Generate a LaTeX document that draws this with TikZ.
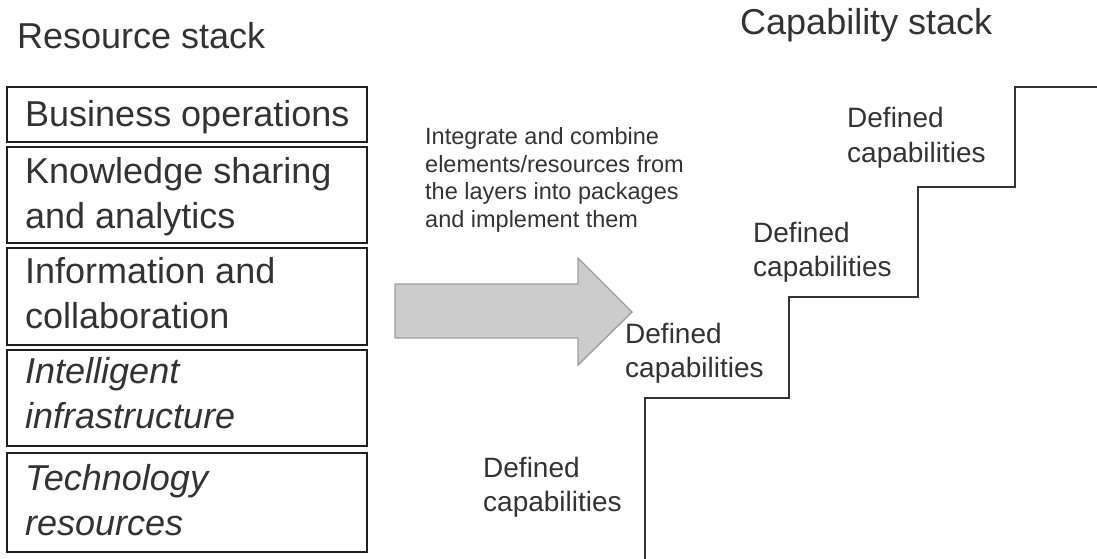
\documentclass[tikz,border=0pt]{standalone}
\usepackage{fontspec}
\setmainfont{Liberation Sans}
\begin{document}
\begin{tikzpicture}[x=1pt,y=-1pt,
  layerbox/.style={draw=black!88,line width=2.6pt},
  layertext/.style={anchor=base west,inner sep=0pt,text=black!80,
    font=\fontsize{36}{45}\selectfont},
  title/.style={anchor=base west,inner sep=0pt,text=black!80,
    font=\fontsize{36}{43}\selectfont},
  note/.style={anchor=base west,inner sep=0pt,text=black!80,
    font=\fontsize{23.5}{27.5}\selectfont},
  caplabel/.style={anchor=base west,inner sep=0pt,text=black!80,
    font=\fontsize{28}{34.5}\selectfont},
  stairline/.style={draw=black!80,line width=1.8pt},
  bigarrow/.style={fill=black!20,draw=black!38,line width=1.4pt,line join=miter}]
\newcommand{\twolines}[2]{\begin{tabular}[t]{@{}l@{}}#1\\#2\end{tabular}}
\newcommand{\fourlines}[4]{\begin{tabular}[t]{@{}l@{}}#1\\#2\\#3\\#4\end{tabular}}

% canvas
\path[use as bounding box,fill=white] (0,0) rectangle (1097,559);

% titles
\node[title] (restitle) at (17,49) {Resource stack};
\node[title] (captitle) at (740,35) {Capability stack};

% resource layers
\draw[layerbox] (7,87)  rectangle (367,142);
\draw[layerbox] (7,147) rectangle (367,243);
\draw[layerbox] (7,248) rectangle (367,345);
\draw[layerbox] (7,350) rectangle (367,446);
\draw[layerbox] (7,453) rectangle (367,552);

\node[layertext] (l1) at (25,127) {Business operations};
\node[layertext] (l2) at (25,183) {\twolines{Knowledge sharing}{and analytics}};
\node[layertext] (l3) at (25,283) {\twolines{Information and}{collaboration}};
\node[layertext] (l4) at (25,383) {\itshape\twolines{Intelligent}{infrastructure}};
\node[layertext] (l5) at (25,490) {\itshape\twolines{Technology}{resources}};

% explanatory note
\node[note] (integrate) at (425,145)
  {\fourlines{Integrate and combine}{elements/resources from}{the layers into packages}{and implement them}};

% block arrow
\draw[bigarrow] (395,284) -- (578,284) -- (578,258) -- (632,312)
  -- (578,365) -- (578,338) -- (395,338) -- cycle;

% staircase of capabilities
\coordinate (s0) at (645,559);
\coordinate (s1) at (645,398);
\coordinate (s2) at (789,398);
\coordinate (s3) at (789,297);
\coordinate (s4) at (918,297);
\coordinate (s5) at (918,187);
\coordinate (s6) at (1015,187);
\coordinate (s7) at (1015,87);
\coordinate (s8) at (1097,87);
\draw[stairline] (s0) -- (s1) -- (s2) -- (s3) -- (s4) -- (s5) -- (s6) -- (s7) -- (s8);

\node[caplabel] (c1) at (483,477) {\twolines{Defined}{capabilities}};
\node[caplabel] (c2) at (625,343) {\twolines{Defined}{capabilities}};
\node[caplabel] (c3) at (753,242) {\twolines{Defined}{capabilities}};
\node[caplabel] (c4) at (847,128) {\twolines{Defined}{capabilities}};
\end{tikzpicture}
\end{document}
